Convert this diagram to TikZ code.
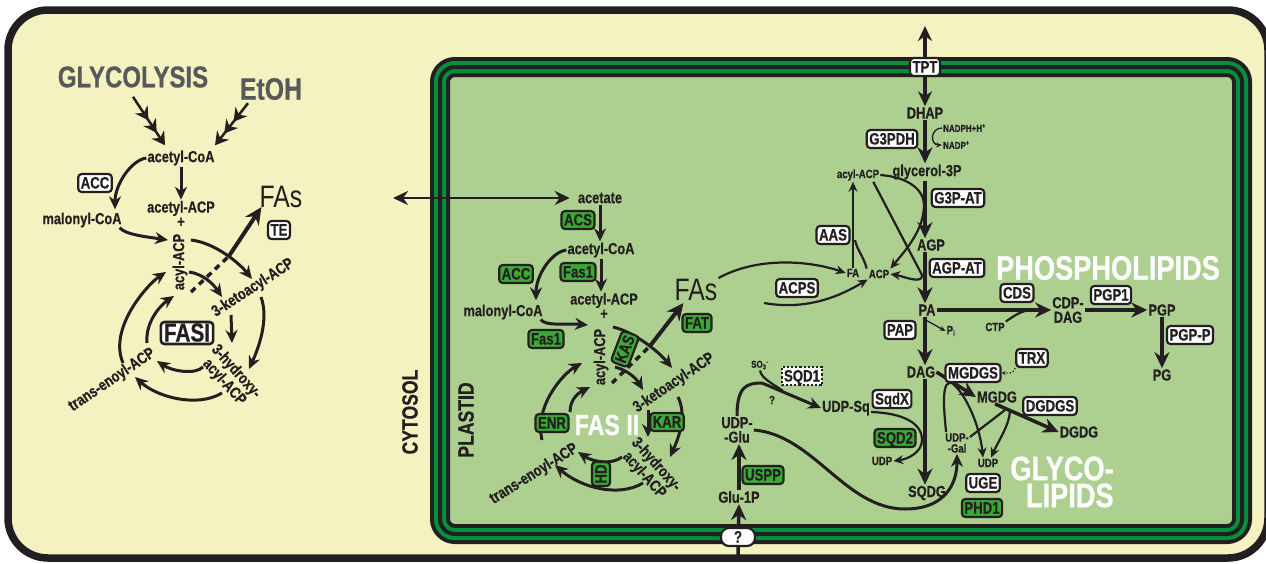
\documentclass[tikz,border=0pt]{standalone}
\usepackage{fontspec}
\setmainfont{Liberation Sans}[FakeStretch=0.8, BoldFeatures={FakeBold=0.6}]
\usetikzlibrary{arrows.meta, calc}

\definecolor{cytocream}{RGB}{245,242,193}
\definecolor{plastidgreen}{RGB}{173,208,145}
\definecolor{membranegreen}{RGB}{0,145,62}
\definecolor{enzgreen}{RGB}{58,170,53}
\definecolor{inkblack}{RGB}{35,31,32}
\definecolor{headgray}{RGB}{88,89,91}

\newcommand{\metabfont}{\bfseries\fontsize{16}{14.5}\selectfont}
\newcommand{\smallfont}{\bfseries\fontsize{12}{11}\selectfont}
\newcommand{\tinyfont}{\bfseries\fontsize{10}{10}\selectfont}
\newcommand{\enzfont}{\bfseries\fontsize{16.5}{16.5}\selectfont}
\newcommand{\headfont}{\bfseries\fontsize{34}{27}\selectfont}

\begin{document}
\begin{tikzpicture}[x=1pt, y=-1pt,
            every node/.style={
                text=inkblack,
                font=\metabfont,
                inner sep=1pt
            },
            smalltxt/.style={font=\smallfont},
            tinytxt/.style={font=\tinyfont},
            heading/.style={font=\headfont, text=white},
            enz/.style={
                draw=inkblack,
                fill=white,
                line width=2.2pt,
                rounded corners=3.5pt,
                font=\enzfont,
                text height=12pt,
                text depth=1pt,
                inner xsep=2.5pt,
                inner ysep=2.5pt
            },
            genz/.style={enz, fill=enzgreen},
            rxn/.style={draw=inkblack, line width=4pt, -{Stealth[length=16pt, width=15pt]}},
            cyc/.style={draw=inkblack, line width=3pt, -{Stealth[length=13pt, width=12pt]}},
            sidearr/.style={draw=inkblack, line width=2.2pt, -{Stealth[length=10pt, width=9pt]}},
            merge/.style={draw=inkblack, line width=2.2pt},
            minor/.style={draw=inkblack, line width=1.3pt, -{Stealth[length=6pt, width=5pt]}},
            dblarr/.style={draw=inkblack, line width=3pt,
                {Stealth[length=15pt, width=14pt]}-{Stealth[length=15pt, width=14pt]}},
            multistep/.style={draw=inkblack, line width=2.5pt,
                -{Stealth[length=13pt, width=15pt, sep=2pt] Stealth[length=13pt, width=15pt, sep=2pt] Stealth[length=13pt, width=15pt]}}
        ]

        \useasboundingbox (0,0) rectangle (1266,563);

        % Cell (cytosol)
        \draw[line width=7.5pt, draw=inkblack, fill=cytocream, rounded corners=40pt]
            (8,10) rectangle (1268,558);

        % Plastid envelope (three membranes)
        \draw[line width=20pt, draw=inkblack, fill=plastidgreen, rounded corners=15pt]
            (440,67) rectangle (1242,534);
        \draw[line width=12pt, draw=membranegreen, rounded corners=15pt]
            (440,67) rectangle (1242,534);
        \draw[line width=4pt, draw=inkblack, rounded corners=15pt]
            (440,67) rectangle (1242,534);

        \node[font=\bfseries\fontsize{22}{22}\selectfont, rotate=90] (cytosol) at (410,412) {CYTOSOL};
        \node[font=\bfseries\fontsize{22}{22}\selectfont, rotate=90] (plastid) at (466,420) {PLASTID};

        % Cytosolic FAS I
        \node[font=\bfseries\fontsize{30}{30}\selectfont, text=headgray] (glyc) at (133,77) {GLYCOLYSIS};
        \node[font=\bfseries\fontsize{31}{31}\selectfont, text=headgray] (etoh) at (271,89) {EtOH};
        \node (acoaL) at (181,158) {acetyl-CoA};
        \node[align=center] (aacpL) at (181,214) {acetyl-ACP\\+};
        \node (malL) at (82,220) {malonyl-CoA};
        \node[rotate=90] (acylL) at (180,262) {acyl-ACP};
        \node[rotate=33] (ketoL) at (253,288) {3-ketoacyl-ACP};
        \node[rotate=-48, align=center] (hydL) at (230,377) {3-hydroxy-\\acyl-ACP};
        \node[rotate=34] (enoylL) at (112,380) {trans-enoyl-ACP};
        \node[font=\fontsize{31}{31}\selectfont] (faL) at (281,197) {FAs};

        \draw[multistep] ($(glyc.south)+(0,8)$) -- ($(acoaL.north)+(-16,-4)$);
        \draw[multistep] ($(etoh.south)+(-23,2)$) -- ($(acoaL.north)+(34,-4)$);
        \draw[cyc] (acoaL.south) -- (acoaL.south |- aacpL.north);
        \draw[cyc] (acoaL.west) .. controls +(-15,2) and +(0,-25) .. ($(malL.north)+(33,-2)$);

        \coordinate (acylLin) at (168,240);
        \coordinate (oL1) at (191,240); \coordinate (oL2) at (252,279);
        \coordinate (oL3) at (261,297); \coordinate (oL4) at (249,369);
        \coordinate (oL5) at (222,393); \coordinate (oL6) at (135,377);
        \coordinate (oL7) at (123,363); \coordinate (oL8) at (166,272);
        \coordinate (iL1) at (189,272); \coordinate (iL2) at (222,297);
        \coordinate (iL3) at (231,315); \coordinate (iL4) at (232,343);
        \coordinate (iL5) at (203,367); \coordinate (iL6) at (157,361);
        \coordinate (iL7) at (147,343); \coordinate (iL8) at (174,296);
        \coordinate (teL0) at (191,292); \coordinate (teL1) at (229,256);

        \draw[cyc] ($(malL.south east)+(-3,-1)$) .. controls +(5,7) and +(-20,-3) .. (acylLin);
        \draw[cyc] (oL1) .. controls +(25,3) and +(-12,-15) .. (oL2);
        \draw[cyc] (oL3) .. controls +(8,22) and +(10,-22) .. (oL4);
        \draw[cyc] (oL5) .. controls +(-25,15) and +(22,20) .. (oL6);
        \draw[cyc] (oL7) .. controls +(-15,-35) and +(-18,12) .. (oL8);
        \draw[cyc] (iL1) .. controls +(15,2) and +(-8,-12) .. (iL2);
        \draw[cyc] (iL3) -- (iL4);
        \draw[cyc] (iL5) .. controls +(-8,8) and +(15,10) .. (iL6);
        \draw[cyc] (iL7) .. controls +(-2,-22) and +(-12,8) .. (iL8);
        \draw[draw=inkblack, line width=3.5pt, dash pattern=on 6pt off 5pt] (teL0) -- (teL1);
        \draw[draw=inkblack, line width=4pt, -{Stealth[length=17pt, width=16pt]}]
            (teL1) -- ($(faL.south west)+(3,-2)$);

        \node[enz] (accL) at (95,183) {ACC};
        \node[enz] (teL) at (279,230) {TE};
        \node[enz, line width=2.6pt, font=\bfseries\fontsize{26}{26}\selectfont, text height=18pt, text depth=1pt, inner xsep=3pt, inner ysep=1.5pt]
            (fasI) at (187,333) {FASI};

        % Plastid FAS II
        \node (acet) at (600,198) {acetate};
        \node (acoaP) at (601,250) {acetyl-CoA};
        \node[align=center] (aacpP) at (604,306) {acetyl-ACP\\+};
        \node (malP) at (503,312) {malonyl-CoA};
        \node[rotate=90] (acylP) at (601,357) {acyl-ACP};
        \node[rotate=34] (ketoP) at (674,383) {3-ketoacyl-ACP};
        \node[rotate=-48, align=center] (hydP) at (650,470) {3-hydroxy-\\acyl-ACP};
        \node[rotate=32] (enoylP) at (534,474) {trans-enoyl-ACP};
        \node[font=\fontsize{31}{31}\selectfont] (faP) at (696,290) {FAs};
        \node[heading, font=\bfseries\fontsize{29}{29}\selectfont] (fasII) at (607,425) {FAS II};

        \coordinate (cytoL) at (393,198);
        \draw[dblarr, line width=2.5pt] (cytoL) -- ([xshift=-7pt]acet.west);
        \draw[cyc] (acet.south) -- (acet.south |- acoaP.north);
        \draw[cyc] (acoaP.south) -- (acoaP.south |- aacpP.north);
        \draw[cyc] (acoaP.west) .. controls +(-15,2) and +(0,-25) .. ($(malP.north)+(33,-3)$);

        \coordinate (acylPin) at (588,325);
        \coordinate (oP1) at (613,327); \coordinate (oP2) at (672,368);
        \coordinate (oP3) at (678,397); \coordinate (oP4) at (670,457);
        \coordinate (oP5) at (643,483); \coordinate (oP6) at (555,465);
        \coordinate (oP7) at (542,440); \coordinate (oP8) at (582,363);
        \coordinate (iP1) at (615,367); \coordinate (iP2) at (643,390);
        \coordinate (iP3) at (648,410); \coordinate (iP4) at (648,437);
        \coordinate (iP5) at (622,457); \coordinate (iP6) at (578,452);
        \coordinate (iP7) at (570,412); \coordinate (iP8) at (590,387);
        \coordinate (fatP0) at (612,383); \coordinate (fatP1) at (650,346);

        \draw[cyc] ($(malP.south east)+(-3,-1)$) .. controls +(6,7) and +(-22,-2) .. (acylPin);
        \draw[cyc] (oP1) .. controls +(22,5) and +(-12,-15) .. (oP2);
        \draw[cyc] (oP3) .. controls +(9,18) and +(9,-20) .. (oP4);
        \draw[cyc] (oP5) .. controls +(-25,15) and +(25,22) .. (oP6);
        \draw[cyc] (oP7) .. controls +(-8,-35) and +(-18,10) .. (oP8);
        \draw[cyc] (iP1) .. controls +(12,3) and +(-7,-12) .. (iP2);
        \draw[cyc] (iP3) -- (iP4);
        \draw[cyc] (iP5) .. controls +(-10,8) and +(15,10) .. (iP6);
        \draw[cyc] (iP7) .. controls +(0,-14) and +(-10,5) .. (iP8);
        \draw[draw=inkblack, line width=3.5pt, dash pattern=on 6pt off 5pt] (fatP0) -- (fatP1);
        \draw[draw=inkblack, line width=4pt, -{Stealth[length=17pt, width=16pt]}]
            (fatP1) -- ($(faP.south west)+(10,1)$);

        \node[genz] (acs) at (578,220) {ACS};
        \node[genz] (fas1a) at (578,272) {Fas1};
        \node[genz] (accP) at (516,274) {ACC};
        \node[genz] (fas1b) at (546,339) {Fas1};
        \node[genz, rotate=69] (kas) at (625,349) {KAS};
        \node[genz] (kar) at (667,422) {KAR};
        \node[genz, rotate=90] (hd) at (601,474) {HD};
        \node[genz] (enr) at (552,423) {ENR};
        \node[genz] (fat) at (697,323) {FAT};

        % Plastid glycerolipids
        \node (dhap) at (925,113) {DHAP};
        \node (g3p) at (927,172) {glycerol-3P};
        \node[tinytxt, anchor=west] (nadph) at (942,128) {NADPH+H\textsuperscript{+}};
        \node[tinytxt, anchor=west] (nadp) at (942,145) {NADP\textsuperscript{+}};
        \node[smalltxt] (acylG) at (858,175) {acyl-ACP};
        \node (agp) at (931,245) {AGP};
        \node[smalltxt] (fa) at (853,273) {FA};
        \node[smalltxt] (acp) at (879,274) {ACP};
        \node (pa) at (927,310) {PA};
        \node[smalltxt] (pi) at (951,331) {P\textsubscript{i}};
        \node (dag) at (921,372) {DAG};
        \node (sqdg) at (927,493) {SQDG};

        \coordinate (tptout) at (925,26);
        \draw[dblarr, line width=3.5pt] (tptout) -- (dhap.north);
        \draw[rxn] (dhap.south) -- (dhap.south |- g3p.north);
        \draw[rxn] (g3p.south -| dhap.south) -- (dhap.south |- agp.north);
        \draw[rxn] (agp.south -| dhap.south) -- (dhap.south |- pa.north);
        \draw[rxn] (pa.south -| dhap.south) -- (dhap.south |- dag.north);
        \draw[rxn] (dag.south -| dhap.south) -- (dhap.south |- sqdg.north);
        \draw[minor] (nadph.west) .. controls +(-12,0) and +(-12,0) .. (nadp.west);

        \coordinate (aasjoin) at (855,240);
        \coordinate (acpsstart) at (764,303);
        \coordinate (g3patjoin) at (924,205);
        \coordinate (agpatjoin) at (922,275);
        \draw[sidearr] (fa.north) -- (fa.north |- acylG.south);
        \draw[merge] ([xshift=-1pt]acp.north west) .. controls +(-3,-12) and +(2,10) .. (aasjoin);
        \draw[sidearr] (faP.north east) .. controls +(40,-22) and +(-35,-12) .. (fa.west);
        \draw[sidearr] (acpsstart) .. controls +(45,8) and +(-25,15) .. (acp.south west);
        \draw[merge] (acylG.east) .. controls +(28,2) and +(0,-15) .. (g3patjoin);
        \draw[sidearr] (g3patjoin) .. controls +(0,25) and +(15,-18) .. (acp.north east);
        \draw[merge] ($(acylG.south east)+(-7,0)$) -- (agpatjoin);
        \draw[sidearr] (agpatjoin) .. controls +(1,10) and +(12,2) .. (acp.east);
        \draw[minor] ($(pa.south -| dhap.south)+(2,4)$) -- (pi.west);

        % Phospholipids
        \node[smalltxt] (ctp) at (995,327) {CTP};
        \node[align=center] (cdpdag) at (1068,310) {CDP-\\DAG};
        \node (pgp) at (1162,310) {PGP};
        \node (pg) at (1162,375) {PG};
        \node[heading] (phospho) at (1108,268) {PHOSPHOLIPIDS};

        \coordinate (cdsjoin) at (1030,310);
        \draw[rxn] (pa.east) -- (cdpdag.west |- pa.east);
        \draw[merge] (ctp.north east) .. controls +(6,-4) and +(-10,1) .. (cdsjoin);
        \draw[rxn] (cdpdag.east |- pgp.west) -- (pgp.west);
        \draw[rxn] (pgp.south) -- (pg.north);

        % Glycolipids
        \node (mgdg) at (997,397) {MGDG};
        \node (dgdg) at (1079,432) {DGDG};
        \node[smalltxt, align=center] (udpgal) at (957,443) {UDP-\\-Gal};
        \node[smalltxt] (udpA) at (988,463) {UDP};
        \node[heading, align=right] (glyco) at (1062,482) {GLYCO-\\LIPIDS};

        \coordinate (mgdgsjoin) at (952,383);
        \coordinate (dgdgsjoin) at (1005,410);
        \draw[rxn, line width=3.5pt] (dag.east) -- (mgdg.west);
        \draw[rxn, line width=3.5pt] ($(mgdg.south)+(-2,0)$) -- (dgdg.west);
        \draw[merge] ($(udpgal.north west)+(2,0)$) .. controls +(-3,-30) and +(-10,-3) .. (mgdgsjoin);
        \draw[sidearr] (mgdgsjoin) .. controls +(15,12) and +(-3,-30) .. ($(udpA.north)+(-5,0)$);
        \draw[merge] ($(udpgal.east)+(0,-6)$) -- (dgdgsjoin);
        \draw[sidearr] ($(dgdgsjoin)+(5,1)$) .. controls +(-1,15) and +(8,-18) .. ($(udpA.north)+(3,0)$);

        % Sulfolipid and UDP-sugars
        \node[tinytxt] (so3) at (760,365) {SO\textsubscript{3}\textsuperscript{-}};
        \node[smalltxt] (qm) at (772,400) {?};
        \node[align=center] (udpglu) at (737,430) {UDP-\\-Glu};
        \node (udpsq) at (846,408) {UDP-Sq};
        \node[smalltxt] (udpB) at (882,461) {UDP};
        \node (glu1p) at (739,497) {Glu-1P};

        \coordinate (sqdturn) at (762,383);
        \coordinate (sqd1join) at (783,391);
        \coordinate (sqdjoin) at (922,440);
        \coordinate (bigturn) at (905,509);
        \coordinate (plastidin) at (738,556);
        \draw[merge, line width=3pt] (udpglu.north) .. controls +(0,-30) and +(-15,0) .. (sqdturn);
        \draw[cyc] (sqdturn) -- (udpsq.west);
        \draw[merge] (so3.south) .. controls +(1,8) and +(-8,-6) .. (sqd1join);
        \draw[merge] ($(udpsq.east)+(0,4)$) .. controls +(30,1) and +(0,-18) .. (sqdjoin);
        \draw[sidearr] (sqdjoin) .. controls +(0,12) and +(15,-2) .. (udpB.east);
        \draw[cyc] (udpglu.east) .. controls +(60,5) and +(-60,0) .. (bigturn)
            .. controls +(40,0) and +(0,30) .. (udpgal.south);
        \draw[rxn, line width=3.5pt] (glu1p.north) -- (glu1p.north |- udpglu.south);
        \draw[rxn, line width=3.5pt] (plastidin) -- (glu1p.south);

        % Enzymes (white and green boxes)
        \node[enz] (tpt) at (925,67) {TPT};
        \node[enz, rounded corners=8pt, minimum width=34pt] (transq) at (738,537) {?};
        \node[enz] (g3pdh) at (892,139) {G3PDH};
        \node[enz] (g3pat) at (958,198) {G3P-AT};
        \node[enz] (aas) at (833,235) {AAS};
        \node[enz] (acps) at (797,288) {ACPS};
        \node[enz] (agpat) at (957,268) {AGP-AT};
        \node[enz] (pap) at (900,330) {PAP};
        \node[enz] (cds) at (1017,293) {CDS};
        \node[enz] (pgp1) at (1111,295) {PGP1};
        \node[enz] (pgpp) at (1190,335) {PGP-P};
        \node[enz] (mgdgs) at (973,373) {MGDGS};
        \node[enz] (trx) at (1032,358) {TRX};
        \node[enz] (dgdgs) at (1050,406) {DGDGS};
        \node[enz] (uge) at (983,483) {UGE};
        \node[genz] (phd1) at (982,508) {PHD1};
        \node[enz, dotted, line width=2pt, rounded corners=0pt] (sqd1) at (802,376) {SQD1};
        \node[enz] (sqdx) at (892,399) {SqdX};
        \node[genz] (sqd2) at (895,438) {SQD2};
        \node[genz] (uspp) at (763,475) {USPP};

        \draw[draw=inkblack, line width=1.3pt, dotted, -{Stealth[length=4pt, width=4pt]}]
            (trx.south west) .. controls +(-2,6) and +(8,0) .. (mgdgs.east);
\end{tikzpicture}
\end{document}
